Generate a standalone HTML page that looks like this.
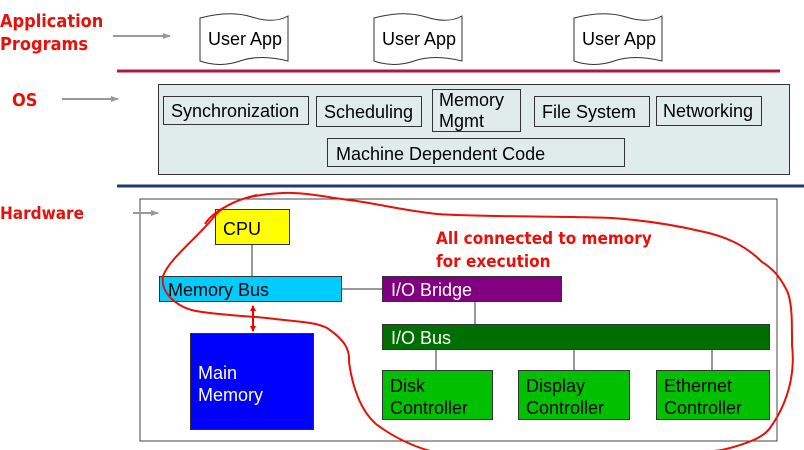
<!DOCTYPE html>
<html><head><meta charset="utf-8"><style>
body{margin:0;width:804px;height:450px;position:relative;background:#fff;font-family:"Liberation Sans",sans-serif;overflow:hidden}
.a{position:absolute;box-sizing:border-box}
.b{border:1px solid #333}
.t{font-size:18px;color:#000;line-height:22px}
.r{color:#e8100a;font-size:18px;position:absolute;line-height:23px;font-family:"DejaVu Sans Condensed","DejaVu Sans",sans-serif;font-weight:bold}
</style></head><body>
<div class="r" style="left:0;top:10px;font-size:18px;">Application<br>Programs</div>
<div class="r" style="left:12px;top:89px;font-size:18px">OS</div>
<div class="r" style="left:0;top:203px;font-size:17px">Hardware</div>
<svg class="a" style="left:0;top:0" width="804" height="450">
<defs><marker id="g" markerUnits="userSpaceOnUse" markerWidth="8" markerHeight="8" refX="7" refY="4" orient="auto"><path d="M0,1 L8,4 L0,7z" fill="#999"/></marker>
<marker id="rm" markerUnits="userSpaceOnUse" markerWidth="6" markerHeight="8" refX="5" refY="4" orient="auto-start-reverse"><path d="M0,1 L6,4 L0,7z" fill="#e00"/></marker></defs>
<line x1="113" y1="36" x2="170" y2="36" stroke="#999" stroke-width="2" marker-end="url(#g)"/>
<line x1="62" y1="99" x2="118" y2="99" stroke="#999" stroke-width="2" marker-end="url(#g)"/>
<g fill="#fff" stroke="#333">
<path d="M200,18 Q230,10 252,17 T288,16 L288,61 Q260,54 240,61 T200,61 Z"/>
<path d="M374,18 Q404,10 426,17 T462,16 L462,61 Q434,54 414,61 T374,61 Z"/>
<path d="M574,18 Q604,10 626,17 T662,16 L662,61 Q634,54 614,61 T574,61 Z"/>
</g>
<line x1="117" y1="71" x2="780" y2="71" stroke="#b0183a" stroke-width="3"/>
<line x1="117" y1="186" x2="804" y2="186" stroke="#1f3b73" stroke-width="3"/>
<rect x="140" y="199" width="637" height="242" fill="#fff" stroke="#444"/>
<line x1="133" y1="213" x2="158" y2="213" stroke="#999" stroke-width="2" marker-end="url(#g)"/>
<line x1="252" y1="245" x2="252" y2="276" stroke="#333"/>
<line x1="342" y1="289" x2="382" y2="289" stroke="#333"/>
<line x1="475" y1="302" x2="475" y2="324" stroke="#333"/>
<line x1="436" y1="350" x2="436" y2="370" stroke="#333"/>
<line x1="574" y1="350" x2="574" y2="370" stroke="#333"/>
<line x1="712" y1="350" x2="712" y2="370" stroke="#333"/>
</svg>
<div class="a t" style="left:208px;top:28px">User App</div>
<div class="a t" style="left:382px;top:28px">User App</div>
<div class="a t" style="left:582px;top:28px">User App</div>
<div class="a b" style="left:158px;top:84px;width:632px;height:91px;background:#e0ecec"></div>
<div class="a b t" style="left:163px;top:96px;width:146px;height:29px;padding:3px 0 0 7px">Synchronization</div>
<div class="a b t" style="left:316px;top:96px;width:106px;height:31px;padding:4px 0 0 7px">Scheduling</div>
<div class="a b t" style="left:432px;top:89px;width:89px;height:43px;padding:0 0 0 6px;line-height:21px">Memory<br>Mgmt</div>
<div class="a b t" style="left:534px;top:96px;width:116px;height:31px;padding:4px 0 0 7px">File System</div>
<div class="a b t" style="left:656px;top:96px;width:106px;height:30px;padding:3px 0 0 6px">Networking</div>
<div class="a b t" style="left:327px;top:138px;width:298px;height:29px;padding:4px 0 0 8px">Machine Dependent Code</div>
<div class="a b t" style="left:215px;top:209px;width:75px;height:36px;background:#ffff00;padding:8px 0 0 7px">CPU</div>
<div class="a b t" style="left:159px;top:276px;width:183px;height:26px;background:#00ccff;padding:2px 0 0 8px">Memory Bus</div>
<div class="a b t" style="left:382px;top:276px;width:180px;height:26px;background:#800080;color:#fff;padding:2px 0 0 8px">I/O Bridge</div>
<div class="a b t" style="left:382px;top:324px;width:388px;height:26px;background:#006f00;color:#fff;padding:2px 0 0 8px">I/O Bus</div>
<div class="a b t" style="left:190px;top:333px;width:124px;height:97px;background:#0000ff;color:#fff;padding:28px 0 0 7px">Main<br>Memory</div>
<div class="a b t" style="left:382px;top:370px;width:111px;height:50px;background:#00c000;padding:4px 0 0 7px">Disk<br>Controller</div>
<div class="a b t" style="left:518px;top:370px;width:112px;height:50px;background:#00c000;padding:4px 0 0 7px">Display<br>Controller</div>
<div class="a b t" style="left:656px;top:370px;width:114px;height:50px;background:#00c000;padding:4px 0 0 7px">Ethernet<br>Controller</div>
<div class="r" style="left:436px;top:228px;font-size:17px">All connected to memory<br>for execution</div>
<svg class="a" style="left:0;top:0" width="804" height="450">
<line x1="253" y1="306" x2="253" y2="331" stroke="#e00" stroke-width="2" marker-end="url(#rm)" marker-start="url(#rm)"/>
<path d="M257,195 C235,200 220,208 213,218 C195,240 170,258 163,276 C160,295 180,308 196,311 C225,316 255,316 275,319 C300,322 315,322 327,328 C345,340 350,350 349,362 C352,385 360,410 376,424 C410,450 450,458 481,459 C560,460 660,458 722,450 C755,442 765,435 770,428 C790,400 795,370 792,345 C792,320 792,305 788,293 C782,280 775,270 762,262 C745,245 725,236 700,231 C670,224 640,220 612,218 C560,216 480,217 437,214 C400,210 375,203 349,200 C320,196 300,192 283,193 C260,194 242,198 231,204 C218,210 210,216 205,224" fill="none" stroke="#e8100a" stroke-width="2"/>
</svg>
</body></html>
